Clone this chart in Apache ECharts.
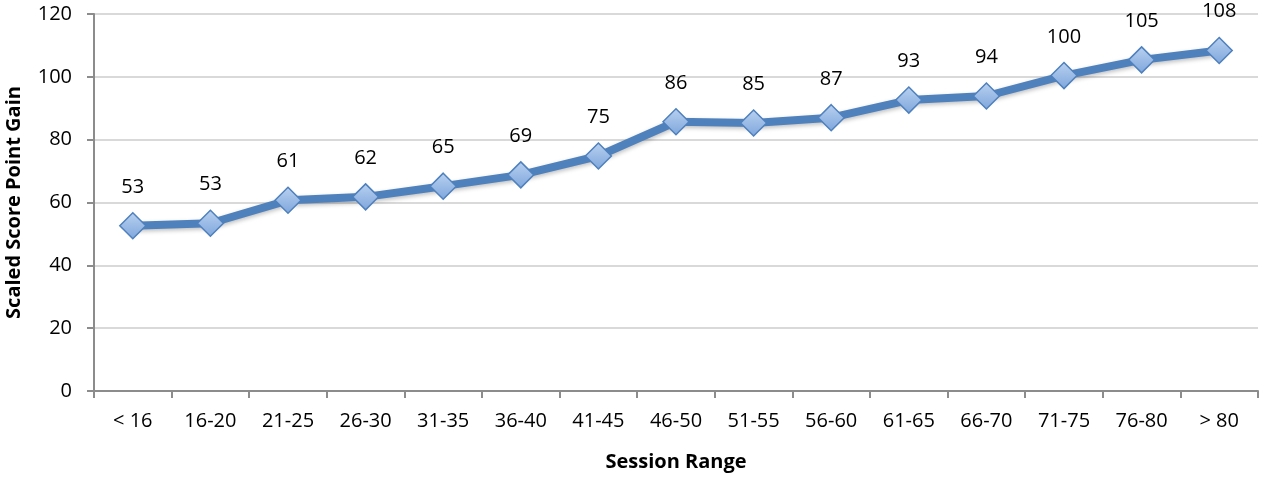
<!DOCTYPE html>
<html>
<head>
    <meta charset="utf-8">
    <script src="https://cdn.jsdelivr.net/npm/echarts@6/dist/echarts.min.js"></script>
    <style>
        body { margin: 0; background: #fff; }
    </style>
</head>
<body>
    <div id="main" style="width: 1261px;height:477px;"></div>
    <script type="text/javascript">
        // session ranges and gain per range
        var sessionRanges = ['< 16', '16-20', '21-25', '26-30', '31-35', '36-40', '41-45', '46-50',
            '51-55', '56-60', '61-65', '66-70', '71-75', '76-80', '> 80'];
        var pointGain = [52.6, 53.4, 60.7, 61.8, 65.2, 68.8, 74.8, 85.7, 85.3, 87, 92.6, 93.9, 100.4, 105.4, 108.4];
        var yTicks = [0, 20, 40, 60, 80, 100, 120];

        var myChart = echarts.init(document.getElementById('main'));
        var font = 'Open Sans, Noto Sans, sans-serif';

        var option = {
            animation: false,
            grid: { left: 94, right: 3, top: 14, bottom: 86, outerBoundsMode: 'none', containLabel: false },
            xAxis: {
                type: 'category',
                data: sessionRanges,
                name: 'Session Range',
                nameLocation: 'middle',
                nameGap: 61,
                nameTextStyle: { fontFamily: font, fontWeight: 'bold', fontSize: 20, color: '#000' },
                axisLine: { lineStyle: { color: '#8c8c8c', width: 2 } },
                axisTick: { show: true, length: 7, lineStyle: { color: '#8c8c8c', width: 2 } },
                axisLabel: { fontFamily: font, fontSize: 20, color: '#000', margin: 20 }
            },
            yAxis: {
                type: 'value',
                min: yTicks[0],
                max: yTicks[yTicks.length - 1],
                interval: 20,
                name: 'Scaled Score Point Gain',
                nameLocation: 'middle',
                nameGap: 70,
                nameTextStyle: { fontFamily: font, fontWeight: 'bold', fontSize: 20, color: '#000' },
                axisLine: { show: true, lineStyle: { color: '#8c8c8c', width: 2 } },
                axisTick: { show: true, length: 7, lineStyle: { color: '#8c8c8c', width: 2 } },
                axisLabel: { fontFamily: font, fontSize: 20, color: '#000', margin: 22 },
                splitLine: { lineStyle: { color: '#d9d9d9', width: 2 } }
            },
            series: [{
                type: 'line',
                data: pointGain,
                symbol: 'diamond',
                symbolSize: 26,
                lineStyle: { color: '#4f81bd', width: 8, shadowColor: 'rgba(0,0,0,0.25)', shadowBlur: 4, shadowOffsetY: 2 },
                itemStyle: {
                    color: new echarts.graphic.LinearGradient(0, 0, 0, 1, [
                        { offset: 0, color: '#b9d1f0' },
                        { offset: 1, color: '#7ea6dc' }
                    ]),
                    borderColor: '#4f81bd',
                    borderWidth: 1.5
                },
                label: {
                    show: true,
                    position: 'top',
                    distance: 15,
                    fontFamily: font,
                    fontSize: 20,
                    color: '#000',
                    formatter: function (p) { return Math.round(p.value); }
                }
            }]
        };
        myChart.setOption(option);
    </script>
</body>
</html>
